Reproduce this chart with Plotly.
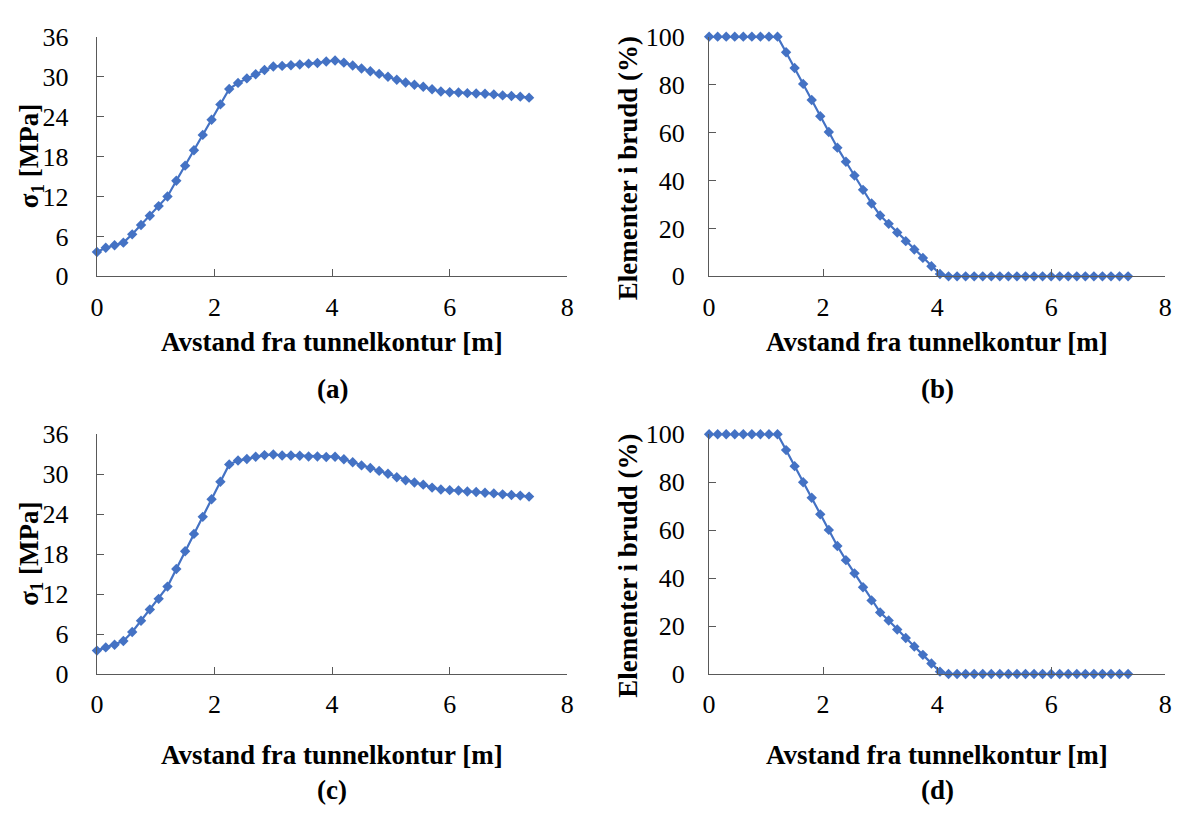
import plotly.graph_objects as go

# Distance from tunnel contour [m]
distance = [0.00, 0.15, 0.30, 0.45, 0.60, 0.75, 0.90, 1.05, 1.20, 1.35,
            1.50, 1.65, 1.80, 1.95, 2.10, 2.25, 2.40, 2.55, 2.70, 2.85,
            3.00, 3.15, 3.30, 3.45, 3.60, 3.75, 3.90, 4.05, 4.20, 4.35,
            4.50, 4.65, 4.80, 4.95, 5.10, 5.25, 5.40, 5.55, 5.70, 5.85,
            6.00, 6.15, 6.30, 6.45, 6.60, 6.75, 6.90, 7.05, 7.20, 7.35]

# Major principal stress sigma_1 [MPa]
sigma1_a = [3.66, 4.29, 4.67, 5.06, 6.31, 7.71, 9.11, 10.55, 12.00, 14.36,
            16.63, 18.94, 21.25, 23.52, 25.83, 28.14, 29.06, 29.73, 30.36, 30.99,
            31.52, 31.61, 31.71, 31.81, 31.95, 32.05, 32.27, 32.43, 32.10, 31.66,
            31.23, 30.80, 30.41, 29.98, 29.54, 29.11, 28.77, 28.48, 28.10, 27.76,
            27.66, 27.61, 27.52, 27.47, 27.42, 27.33, 27.18, 27.08, 26.99, 26.84]

sigma1_c = [3.52, 4.00, 4.39, 4.97, 6.32, 8.01, 9.70, 11.29, 13.13, 15.78,
            18.44, 21.04, 23.60, 26.25, 28.86, 31.47, 32.05, 32.29, 32.63, 32.87,
            32.96, 32.82, 32.82, 32.77, 32.67, 32.67, 32.58, 32.63, 32.24, 31.80,
            31.32, 30.94, 30.50, 30.07, 29.54, 29.10, 28.76, 28.43, 27.99, 27.70,
            27.61, 27.56, 27.41, 27.32, 27.22, 27.12, 26.98, 26.88, 26.79, 26.64]

# Share of elements in failure [%]
failed_b = [100, 100, 100, 100, 100, 100, 100, 100, 100, 93.5,
            86.9, 80.3, 73.6, 66.8, 60.2, 53.7, 47.8, 42.1, 36.1, 30.4,
            25.4, 21.9, 18.3, 14.7, 11.2, 7.7, 4.2, 1.0, 0, 0,
            0, 0, 0, 0, 0, 0, 0, 0, 0, 0,
            0, 0, 0, 0, 0, 0, 0, 0, 0, 0]

failed_d = [100, 100, 100, 100, 100, 100, 100, 100, 100, 93.4,
            86.7, 80.0, 73.5, 66.6, 60.1, 53.4, 47.5, 42.0, 36.2, 30.7,
            25.7, 22.3, 18.6, 15.0, 11.5, 8.0, 4.4, 1.0, 0, 0,
            0, 0, 0, 0, 0, 0, 0, 0, 0, 0,
            0, 0, 0, 0, 0, 0, 0, 0, 0, 0]

x_ticks = [0, 2, 4, 6, 8]
stress_ticks = [0, 6, 12, 18, 24, 30, 36]
failure_ticks = [0, 20, 40, 60, 80, 100]

x_title = "Avstand fra tunnelkontur [m]"
stress_title = "<b>σ<sub>1</sub> [MPa]</b>"
failure_title = "<b>Elementer i brudd (%)</b>"
panel_labels = ["(a)", "(b)", "(c)", "(d)"]

W, H = 1185, 818
BLUE = "#4472C4"
AXIS = "#595959"
FONT = "'Times New Roman', 'Liberation Serif', 'DejaVu Serif', serif"
TICK_SIZE = 26
TITLE_SIZE = 27

# pixel boxes of the four plot areas: (left, right, top, bottom)
boxes = [
    (91, 567, 23.5, 272),
    (710.5, 1172, 23.5, 272),
    (91, 567, 435.7, 684.3),
    (710.5, 1172, 435.7, 684.3),
]
# vertical offsets below each plot area for the x title and the panel label
title_offsets = [68, 68, 84, 84]
label_offsets = [117, 117, 120, 120]

series = [sigma1_a, failed_b, sigma1_c, failed_d]
yranges = [[0, 36], [0, 100], [0, 36], [0, 100]]
yticks = [stress_ticks, failure_ticks, stress_ticks, failure_ticks]
ytitles = [stress_title, failure_title, stress_title, failure_title]

fig = go.Figure()
annotations = []

for i, (box, ys) in enumerate(zip(boxes, series)):
    n = "" if i == 0 else str(i + 1)
    left, right, top, bottom = box
    fig.add_trace(go.Scatter(
        x=distance, y=ys, mode="lines+markers",
        xaxis="x" + n, yaxis="y" + n,
        line=dict(color=BLUE, width=2.2),
        marker=dict(symbol="diamond", size=8, color=BLUE),
        cliponaxis=False, showlegend=False,
    ))
    common = dict(
        showgrid=False, zeroline=False, showline=True,
        linecolor=AXIS, linewidth=1.3,
        ticks="inside", ticklen=7, tickwidth=1.3, tickcolor=AXIS,
        tickfont=dict(family=FONT, size=TICK_SIZE, color="black"),
    )
    fig.update_layout(**{
        "xaxis" + n: dict(
            domain=[left / W, right / W], range=[0, 8],
            tickmode="array", tickvals=x_ticks,
            anchor="y" + n, ticklabelstandoff=7, **common),
        "yaxis" + n: dict(
            domain=[1 - bottom / H, 1 - top / H], range=yranges[i],
            tickmode="array", tickvals=yticks[i],
            anchor="x" + n, ticklabelstandoff=(18 if i % 2 else 22),
            **common),
    })
    cx = (left + right) / 2
    annotations.append(dict(
        x=cx / W, y=1 - (bottom + title_offsets[i]) / H,
        xref="paper", yref="paper",
        text="<b>" + x_title + "</b>", showarrow=False,
        font=dict(family=FONT, size=TITLE_SIZE, color="black"),
        xanchor="center", yanchor="middle"))
    annotations.append(dict(
        x=cx / W, y=1 - (bottom + label_offsets[i]) / H,
        xref="paper", yref="paper",
        text="<b>" + panel_labels[i] + "</b>", showarrow=False,
        font=dict(family=FONT, size=TITLE_SIZE, color="black"),
        xanchor="center", yanchor="middle"))
    ty = (top + bottom) / 2 + (12 if i % 2 else 0)
    tx = left - (82 if i % 2 else 67)
    annotations.append(dict(
        x=tx / W, y=1 - ty / H, xref="paper", yref="paper",
        text=ytitles[i], showarrow=False, textangle=-90,
        font=dict(family=FONT, size=TITLE_SIZE, color="black"),
        xanchor="center", yanchor="middle"))

fig.update_layout(
    width=W, height=H,
    margin=dict(l=0, r=0, t=0, b=0),
    paper_bgcolor="white", plot_bgcolor="white",
    font=dict(family=FONT),
    annotations=annotations,
)

fig.write_html("out.html")
